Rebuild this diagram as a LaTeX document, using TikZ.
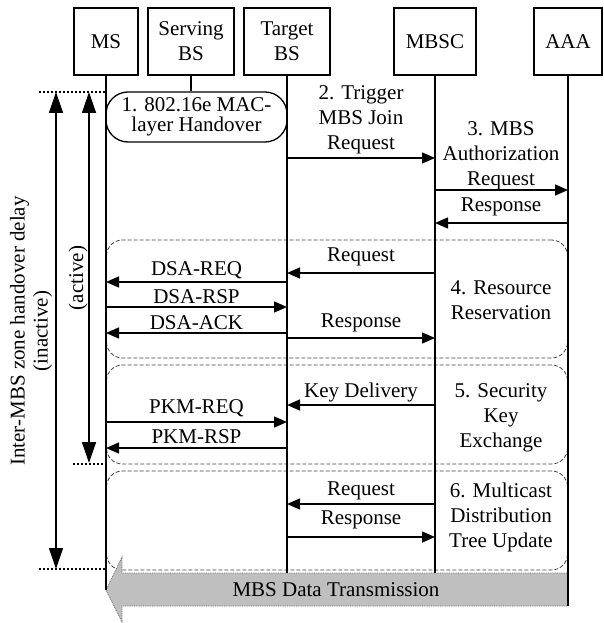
\documentclass[tikz,border=0pt]{standalone}
\usepackage{fontspec}
\setmainfont{Liberation Serif}
\usetikzlibrary{arrows.meta}
\tikzstyle{entity} = [draw, line width=1.3pt, minimum height=67pt, inner sep=2pt, align=center]
\tikzstyle{life} = [draw, line width=1.6pt]
\tikzstyle{msg} = [draw, line width=1.5pt, -{Triangle[length=13pt, width=11pt]}]
\tikzstyle{phase} = [draw=black!75, line width=0.8pt, dash pattern=on 4pt off 2pt, rounded corners=16pt, minimum width=461pt]
\tikzstyle{delay} = [draw, line width=1.5pt, {Triangle[length=21pt, width=14pt]}-{Triangle[length=21pt, width=14pt]}]
\tikzstyle{limit} = [draw, line width=1.2pt, dash pattern=on 2pt off 2pt]
\tikzstyle{txt} = [align=center, inner sep=0pt]
\tikzstyle{data} = [fill=black!25, draw=black!60, line width=0.8pt, densely dotted]

\begin{document}
\begin{tikzpicture}[x=1pt, y=-1pt, every node/.style={font=\fontsize{21}{25}\selectfont}]
			\useasboundingbox (0,0) rectangle (604,623);

			\node [entity, minimum width=64pt] (ms) at (106,41.5) {MS};
			\node [entity, minimum width=86pt] (sbs) at (191,41.5) {Serving\\BS};
			\node [entity, minimum width=86pt] (tbs) at (287,41.5) {Target\\BS};
			\node [entity, minimum width=82pt] (mbsc) at (435,41.5) {MBSC};
			\node [entity, minimum width=68pt] (aaa) at (568,41.5) {AAA};
			\node [draw, line width=1.3pt, rounded corners=22pt, minimum width=181pt, minimum height=50pt, align=center, font=\fontsize{21}{20}\selectfont] (ho) at (196.5,117) {1. 802.16e MAC-\\layer Handover};

			\node [phase, minimum height=118pt] (res) at (337,299) {};
			\node [phase, minimum height=99pt] (sec) at (337,414.5) {};
			\node [phase, minimum height=99pt] (tree) at (337,520.5) {};

			\path [data] (ms |- 0,590) -- (122,557) -- (122,573) -- (aaa |- 0,573) -- (aaa |- 0,606) -- (122,606) -- (122,622) -- cycle;
			\node (mbsdata) at (336,590) {MBS Data Transmission};

			\path [life] (ms.south) -- (ms |- 0,590);
			\path [life] (sbs.south) -- (sbs |- ho.north);
			\path [life] (tbs.south) -- (tbs |- 0,573);
			\path [life] (mbsc.south) -- (mbsc |- 0,573);
			\path [life] (aaa.south) -- (aaa |- 0,606);

			\node [txt] (join) at (361,120) {2. Trigger\\MBS Join\\Request};
			\node [txt] (auth) at (501,156) {3. MBS\\Authorization\\Request};
			\node [txt] (authrsp) at (501,207) {Response};
			\node [txt] (resreq) at (361,257) {Request};
			\node [txt] (dsareq) at (196.5,270) {DSA-REQ};
			\node [txt] (dsarsp) at (196.5,297) {DSA-RSP};
			\node [txt] (dsaack) at (196.5,323) {DSA-ACK};
			\node [txt] (resrsp) at (361,323) {Response};
			\node [txt] (restxt) at (501,300) {4. Resource\\Reservation};
			\node [txt] (keydel) at (361,392) {Key Delivery};
			\node [txt] (pkmreq) at (196.5,408) {PKM-REQ};
			\node [txt] (pkmrsp) at (196.5,437) {PKM-RSP};
			\node [txt] (sectxt) at (501,418) {5. Security\\Key\\Exchange};
			\node [txt] (treereq) at (361,491) {Request};
			\node [txt] (treersp) at (361,520) {Response};
			\node [txt] (treetxt) at (501,517) {6. Multicast\\Distribution\\Tree Update};

			\path [msg] (tbs |- 0,158) -- (mbsc |- 0,158);
			\path [msg] (mbsc |- 0,190) -- (aaa |- 0,190);
			\path [msg] (aaa |- 0,223) -- (mbsc |- 0,223);
			\path [msg] (mbsc |- 0,273) -- (tbs |- 0,273);
			\path [msg] (tbs |- 0,282) -- (ms |- 0,282);
			\path [msg] (ms |- 0,307) -- (tbs |- 0,307);
			\path [msg] (tbs |- 0,333) -- (ms |- 0,333);
			\path [msg] (tbs |- 0,338) -- (mbsc |- 0,338);
			\path [msg] (mbsc |- 0,405) -- (tbs |- 0,405);
			\path [msg] (ms |- 0,422) -- (tbs |- 0,422);
			\path [msg] (tbs |- 0,448) -- (ms |- 0,448);
			\path [msg] (mbsc |- 0,504) -- (tbs |- 0,504);
			\path [msg] (tbs |- 0,537) -- (mbsc |- 0,537);

			\coordinate (d1) at (39,92);
			\coordinate (d2) at (73,464);
			\coordinate (d3) at (39,569);
			\coordinate (in1) at (56,92);
			\coordinate (in2) at (56,569);
			\coordinate (ac1) at (89,92);
			\coordinate (ac2) at (89,463);

			\path [limit] (d1) -- (ms |- d1);
			\path [limit] (d2) -- (ms |- d2);
			\path [limit] (d3) -- (ms |- d3);
			\path [delay] (in1) -- (in2);
			\path [delay] (ac1) -- (ac2);

			\node [txt, rotate=90, font=\fontsize{21}{23}\selectfont] (inactive) at (31,331) {Inter-MBS zone handover delay\\(inactive)};
			\node [txt, rotate=90] (active) at (78,278) {(active)};
		\end{tikzpicture}
\end{document}
